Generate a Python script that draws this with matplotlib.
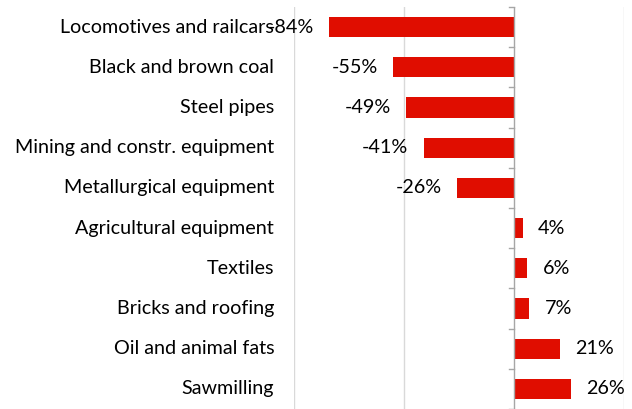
import matplotlib.pyplot as plt

plt.rcParams["font.family"] = ["Lato", "DejaVu Sans"]

categories = ['Locomotives and railcars', 'Black and brown coal', 'Steel pipes',
              'Mining and constr. equipment', 'Metallurgical equipment',
              'Agricultural equipment', 'Textiles', 'Bricks and roofing',
              'Oil and animal fats', 'Sawmilling']
changes = [-84, -55, -49, -41, -26, 4, 6, 7, 21, 26]

fig = plt.figure(figsize=(6.32, 4.09), dpi=100)
ax = fig.add_axes([294/632, 0.0, 330/632, 1 - 7/409])

y = list(range(len(categories)))
ax.barh(y, changes, height=0.5, color='#e00d00', zorder=3)

# value labels beside each bar
for yi, v in zip(y, changes):
    if v < 0:
        ax.text(v - 7, yi, f'{v}%', ha='right', va='center', fontsize=14.2)
    else:
        ax.text(v + 7, yi, f'{v}%', ha='left', va='center', fontsize=14.2)

# category labels left of the plot area
for yi, name in zip(y, categories):
    ax.text(-109, yi, name, ha='right', va='center', fontsize=14.2)

ax.set_xlim(-100, 50)
ax.set_ylim(len(categories) - 0.5, -0.5)

# grid lines every 50%
for gx in (-100, -50, 50):
    ax.axvline(gx, color='#d9d9d9', lw=1, zorder=1)
ax.axvline(0, color='#a6a6a6', lw=1, zorder=4)

for s in ax.spines.values():
    s.set_visible(False)
ax.set_xticks([])
ax.set_yticks([])

# tick marks between categories on the zero line
for yi in range(len(categories) + 1):
    ax.plot([-2.3, 0], [yi - 0.5, yi - 0.5], color='#a6a6a6', lw=1,
            clip_on=False, zorder=4)

fig.savefig('out.png', dpi=100)
